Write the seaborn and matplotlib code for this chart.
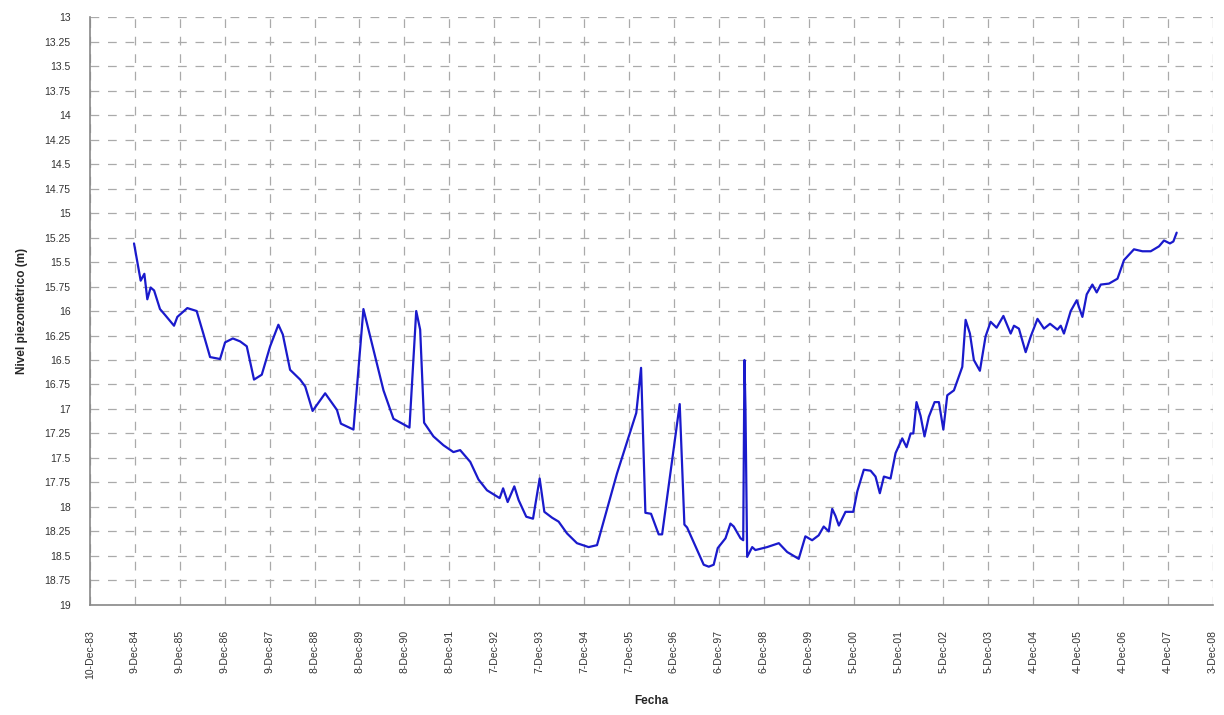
import matplotlib
matplotlib.use('Agg')
import matplotlib.pyplot as plt
import matplotlib.dates as mdates
import pandas as pd
import seaborn as sns
import numpy as np

# Datos (fecha, nivel piezométrico en m)
fechas = [
    '1984-12-02', '1985-01-25', '1985-02-24', '1985-03-20', '1985-04-16', '1985-05-14',
    '1985-07-01', '1985-08-11', '1985-10-23', '1985-11-19', '1986-02-08', '1986-04-25',
    '1986-06-18', '1986-08-12', '1986-11-01', '1986-12-12', '1987-02-13', '1987-04-13',
    '1987-06-06', '1987-08-04', '1987-10-06', '1987-12-13', '1988-02-18', '1988-03-25',
    '1988-05-23', '1988-08-13', '1988-09-23', '1988-11-22', '1989-03-04', '1989-06-08',
    '1989-07-10', '1989-10-20', '1990-01-09', '1990-06-21', '1990-09-10', '1991-01-18',
    '1991-03-14', '1991-04-15', '1991-05-17', '1991-08-01', '1991-10-21', '1992-01-10',
    '1992-03-05', '1992-05-26', '1992-08-01', '1992-10-09', '1993-01-20', '1993-02-17',
    '1993-03-26', '1993-05-19', '1993-06-23', '1993-08-24', '1993-10-18', '1993-12-11',
    '1994-01-18', '1994-03-22', '1994-05-14', '1994-07-21', '1994-10-10', '1995-01-13',
    '1995-03-22', '1995-08-31', '1996-02-04', '1996-03-14', '1996-04-18', '1996-06-03',
    '1996-08-04', '1996-09-01', '1997-01-22', '1997-03-01', '1997-03-23', '1997-08-05',
    '1997-09-15', '1997-10-25', '1997-11-27', '1998-01-29', '1998-03-10', '1998-04-06',
    '1998-05-31', '1998-06-22', '1998-07-02', '1998-07-10', '1998-07-24', '1998-09-03',
    '1998-09-29', '1999-01-02', '1999-04-07', '1999-06-14', '1999-09-16', '1999-11-09',
    '2000-01-03', '2000-02-25', '2000-04-06', '2000-05-17', '2000-06-14', '2000-07-10',
    '2000-08-07', '2000-09-30', '2000-12-02', '2001-01-04', '2001-02-26', '2001-04-22',
    '2001-06-01', '2001-07-06', '2001-08-08', '2001-10-01', '2001-11-11', '2002-01-04',
    '2002-02-08', '2002-03-13', '2002-04-04', '2002-04-30', '2002-06-02', '2002-07-04',
    '2002-08-08', '2002-09-24', '2002-10-29', '2002-12-04', '2003-01-05', '2003-02-28',
    '2003-05-07', '2003-06-03', '2003-07-08', '2003-08-09', '2003-09-27', '2003-11-12',
    '2003-12-23', '2004-02-10', '2004-04-05', '2004-06-03', '2004-06-30', '2004-08-09',
    '2004-10-03', '2004-11-13', '2005-01-07', '2005-03-01', '2005-04-19', '2005-06-18',
    '2005-07-15', '2005-08-10', '2005-10-04', '2005-11-22', '2005-12-10', '2006-01-07',
    '2006-02-11', '2006-03-29', '2006-05-03', '2006-06-05', '2006-08-11', '2006-10-19',
    '2006-12-11', '2007-03-02', '2007-05-10', '2007-07-16', '2007-09-21', '2007-11-01',
    '2007-12-19', '2008-01-16', '2008-02-12',
]
niveles = [
    15.31, 15.69, 15.62, 15.88, 15.76, 15.79,
    15.98, 16.04, 16.15, 16.06, 15.97, 16.00,
    16.23, 16.47, 16.49, 16.32, 16.28, 16.31,
    16.36, 16.70, 16.65, 16.36, 16.14, 16.24,
    16.60, 16.70, 16.77, 17.02, 16.84, 17.01,
    17.15, 17.21, 15.98, 16.81, 17.10, 17.19,
    16.00, 16.19, 17.14, 17.28, 17.37, 17.44,
    17.42, 17.54, 17.72, 17.83, 17.91, 17.81,
    17.95, 17.79, 17.93, 18.10, 18.12, 17.71,
    18.05, 18.11, 18.15, 18.27, 18.37, 18.41,
    18.39, 17.66, 17.04, 16.58, 18.06, 18.07,
    18.28, 18.28, 16.95, 18.18, 18.21, 18.59,
    18.61, 18.59, 18.42, 18.32, 18.17, 18.20,
    18.32, 18.34, 16.50, 16.98, 18.51, 18.41,
    18.44, 18.41, 18.37, 18.46, 18.53, 18.30,
    18.34, 18.29, 18.20, 18.25, 18.02, 18.09,
    18.19, 18.05, 18.05, 17.84, 17.62, 17.63,
    17.69, 17.86, 17.69, 17.71, 17.45, 17.30,
    17.39, 17.25, 17.25, 16.93, 17.07, 17.28,
    17.08, 16.93, 16.93, 17.21, 16.86, 16.81,
    16.57, 16.09, 16.23, 16.50, 16.61, 16.26,
    16.11, 16.17, 16.05, 16.23, 16.15, 16.18,
    16.42, 16.26, 16.08, 16.18, 16.13, 16.19,
    16.15, 16.23, 16.00, 15.89, 15.96, 16.06,
    15.83, 15.73, 15.81, 15.73, 15.72, 15.67,
    15.48, 15.37, 15.39, 15.39, 15.34, 15.28,
    15.31, 15.29, 15.20,
]

# Marcas del eje X: cada 365 días desde 10-Dec-83
x_ticks = pd.date_range(start='1983-12-10', periods=26, freq='365D')
x_tick_labels = [f"{d.day}-{d.strftime('%b-%y')}" for d in x_ticks]
y_ticks = np.arange(13, 19.01, 0.25)

df = pd.DataFrame({'Fecha': pd.to_datetime(fechas), 'Nivel': niveles})

sns.set_style('white')
plt.rcParams['font.family'] = ['Liberation Sans', 'DejaVu Sans']

fig = plt.figure(figsize=(12.24, 7.15), dpi=100)
ax = fig.add_axes([0.0735, 0.154, 0.9175, 0.822])

sns.lineplot(data=df, x='Fecha', y='Nivel', ax=ax, color='#1a1acc', linewidth=1.6)

ax.set_xlim(x_ticks[0], x_ticks[-1])
ax.set_ylim(19, 13)
ax.set_yticks(y_ticks)
ax.set_yticklabels([f"{v:g}" for v in y_ticks])
ax.set_xticks(x_ticks)
ax.set_xticklabels(x_tick_labels, rotation=90)

ax.grid(True, color='#aaaaaa', linestyle=(0, (7, 7)), linewidth=0.9)
for s in ['top', 'right']:
    ax.spines[s].set_visible(False)
for s in ['left', 'bottom']:
    ax.spines[s].set_color('#888888')
    ax.spines[s].set_linewidth(1.2)

ax.tick_params(axis='both', which='both', direction='out', length=8, width=1,
               color='#888888', labelsize=7.5, labelcolor='#333333', pad=6)
ax.tick_params(axis='x', length=10, pad=8)

ax.set_xlabel('Fecha', fontsize=8.5, fontweight='bold', labelpad=12)
ax.set_ylabel('Nivel piezométrico (m)', fontsize=8.5, fontweight='bold', labelpad=12)

fig.savefig('out.png', dpi=100)
